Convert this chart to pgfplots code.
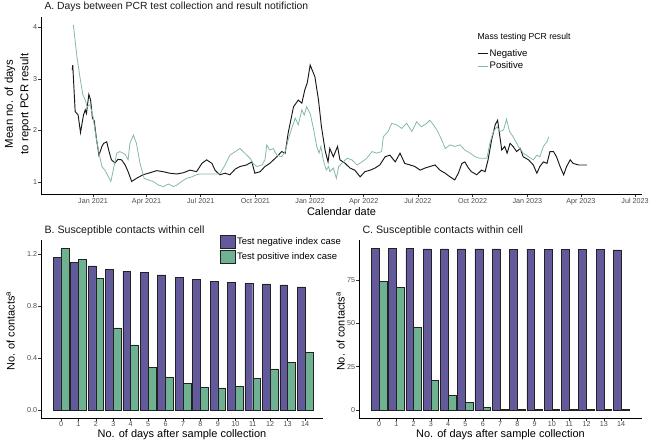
\documentclass[border=0pt]{standalone}
\usepackage{fontspec}
\setmainfont{Liberation Sans}
\usepackage{pgfplots}
\pgfplotsset{compat=1.18}
\definecolor{negpurple}{HTML}{635A9C}
\definecolor{posgreen}{HTML}{6FB292}
\definecolor{linegreen}{HTML}{86B9A2}
\definecolor{ticktxt}{HTML}{4D4D4D}
\definecolor{barline}{HTML}{222222}
\pgfplotsset{
  common/.style={
    scale only axis, anchor=south west,
    axis x line*=bottom, axis y line*=left,
    axis line style={-, line width=0.55pt, black},
    tick align=outside, major tick length=2.7bp,
    tick style={line width=0.45pt, black!80},
    ticklabel style={font=\fontsize{7.2}{8}\selectfont, text=ticktxt, inner sep=1bp},
    /pgf/number format/assume math mode=true,
  }
}
\begin{document}
\begin{tikzpicture}
\useasboundingbox (0,0) rectangle (650bp,443bp);
% ---------------- Panel A ----------------
\begin{axis}[common,
  at={(41bp,248.3bp)}, width=601bp, height=177.9bp,
  xmin=-87.4, xmax=922.7, ymin=0.753, ymax=4.207,
  xtick={0,90,181,273,365,455,546,638,730,820,911},
  xticklabels={Jan 2021,Apr 2021,Jul 2021,Oct 2021,Jan 2022,Apr 2022,Jul 2022,Oct 2022,Jan 2023,Apr 2023,Jul 2023},
  ytick={1,2,3,4}, yticklabels={1,2,3,4},
  legend style={at={(axis description cs:0.7255,0.828)}, anchor=north west, draw=none, fill=none,
    inner sep=0pt, row sep=1.2bp, font=\fontsize{9.6}{11}\selectfont, nodes={inner sep=1.5bp}},
  legend cell align=left,
  legend image code/.code={\draw[#1] (0bp,0bp) -- (10bp,0bp);},
]
\addplot[draw=black!90, line width=0.95pt] coordinates {
(-35,3.17) (-34,3.27) (-30,2.37) (-25,2.30) (-21,1.96) (-16,2.30) (-13,2.40) (-11,2.33)
(-7,2.70) (-4,2.59) (-1,2.24) (2,2.19) (6,1.82) (10,1.52) (15,1.69) (18,1.75) (23,1.78)
(27,1.59) (31,1.43) (37,1.37) (42,1.44) (48,1.43) (54,1.33) (59,1.20) (65,1.01) (73,1.07)
(84,1.14) (96,1.18) (107,1.22) (118,1.20) (129,1.17) (141,1.155) (152,1.18) (163,1.23)
(174,1.20) (183,1.36) (191,1.43) (200,1.36) (205,1.23) (213,1.14) (222,1.17) (230,1.14)
(239,1.25) (247,1.30) (258,1.33) (267,1.39) (272,1.17) (281,1.20) (289,1.30) (297,1.36)
(309,1.49) (317,1.59) (323,1.56) (328,1.95) (337,2.46) (345,2.59) (351,2.53) (356,2.79)
(360,2.92) (365,3.27) (373,3.04) (379,2.59) (384,2.07) (390,1.62) (395,1.39) (398,1.65)
(404,1.49) (411,1.69) (415,1.43) (424,1.36) (432,1.27) (440,1.23) (449,1.10) (457,1.20)
(466,1.23) (474,1.27) (482,1.33) (491,1.49) (499,1.52) (508,1.39) (516,1.56) (524,1.36)
(533,1.33) (541,1.30) (550,1.23) (558,1.27) (566,1.30) (575,1.33) (583,1.23) (592,1.17)
(600,1.10) (608,1.04) (614,1.17) (620,1.36) (625,1.39) (631,1.27) (636,1.20) (645,1.14)
(653,1.23) (659,1.20) (664,1.43) (670,1.82) (676,2.11) (680,2.20) (683,1.95) (687,1.62)
(692,1.69) (696,1.56) (701,1.75) (706,1.69) (712,1.59) (718,1.65) (723,1.49) (732,1.43)
(740,1.33) (746,1.17) (751,1.30) (757,1.39) (763,1.36) (768,1.59) (774,1.59) (779,1.49)
(785,1.30) (791,1.14) (796,1.30) (802,1.43) (807,1.36) (816,1.33) (827,1.33) (830,1.33)
};
\addlegendentry{Negative}
\addplot[draw=linegreen, line width=0.8pt] coordinates {
(-33,4.05) (-27,3.43) (-22,3.04) (-17,2.69) (-13,2.59) (-10,2.46) (-5,2.50) (0,2.27)
(5,1.88) (9,1.62) (15,1.30) (20,1.23) (26,1.10) (30,1.01) (34,1.23) (40,1.56) (45,1.59)
(54,1.54) (59,1.43) (62,1.75) (68,1.91) (73,1.75) (79,1.36) (86,1.07) (93,1.04) (101,1.01)
(110,0.94) (118,0.91) (127,0.96) (135,0.91) (141,0.94) (149,1.01) (157,1.07) (166,1.10)
(174,1.14) (180,1.155) (213,1.155) (222,1.33) (230,1.52) (239,1.59) (247,1.65) (255,1.56)
(264,1.46) (269,1.36) (275,1.30) (284,1.33) (289,1.43) (292,1.72) (297,1.62) (303,1.65)
(309,1.52) (317,1.49) (323,1.59) (328,1.82) (334,2.04) (340,2.24) (345,2.11) (351,2.40)
(355,2.30) (359,2.46) (365,2.33) (371,2.01) (376,1.69) (380,1.56) (383,1.69) (387,1.43)
(392,1.23) (396,1.30) (398,1.20) (404,1.27) (409,1.07) (413,1.30) (418,1.36) (427,1.46)
(435,1.43) (444,1.33) (452,1.39) (460,1.46) (469,1.59) (477,1.56) (485,1.59) (488,1.88)
(496,1.98) (502,2.14) (510,2.11) (519,2.04) (527,2.14) (536,1.98) (544,2.17) (552,2.07)
(561,2.14) (566,2.20) (572,2.11) (578,2.01) (586,1.82) (592,1.65) (600,1.72) (608,1.69)
(617,1.72) (625,1.62) (634,1.56) (642,1.49) (650,1.46) (662,1.46) (667,1.75) (673,1.98)
(679,2.07) (684,1.98) (690,2.01) (695,2.22) (700,1.98) (706,1.88) (715,1.69) (723,1.56)
(732,1.49) (740,1.43) (746,1.52) (751,1.49) (757,1.69) (763,1.78) (766,1.88)
};
\addlegendentry{Positive}
\end{axis}
\node[anchor=base west, font=\fontsize{10.4}{12}\selectfont, text=black!90] at (41bp,433.7bp) {A. Days between PCR test collection and result notifiction};
\node[anchor=base, font=\fontsize{11}{13}\selectfont] at (341.5bp,227bp) {Calendar date};
\node[anchor=base, rotate=90, font=\fontsize{11.4}{13}\selectfont] at (12.8bp,339bp) {Mean no. of days};
\node[anchor=base, rotate=90, font=\fontsize{11.4}{13}\selectfont] at (28.3bp,339bp) {to report PCR result};
\node[anchor=west, font=\fontsize{8.7}{10}\selectfont] at (474bp,406bp) {Mass testing PCR result};
% ---------------- Panel B ----------------
\begin{axis}[common,
  at={(41bp,25bp)}, width=282bp, height=177.5bp,
  xmin=-1.147, xmax=15.03, ymin=-0.062, ymax=1.303,
  xtick={0,...,14},
  ytick={0,0.4,0.8,1.2}, yticklabels={0.0,0.4,0.8,1.2},
  ybar, bar width=0.45,
  legend image code/.code={\draw[#1, draw=barline, line width=0.5pt] (0bp,-6.5bp) rectangle (15bp,6.5bp);},
  legend style={at={(axis description cs:0.6348,1.031)}, anchor=north west, draw=none, fill=none,
    inner sep=0pt, row sep=1bp, font=\fontsize{9.5}{11}\selectfont, nodes={inner sep=1.5bp}},
  legend cell align=left,
]
\addplot[ybar, bar shift=-0.225, fill=negpurple, draw=barline, line width=0.5pt] coordinates {
(0,1.172) (1,1.133) (2,1.108) (3,1.082) (4,1.067) (5,1.056) (6,1.038) (7,1.021) (8,1.003)
(9,0.990) (10,0.982) (11,0.974) (12,0.969) (13,0.962) (14,0.946)};
\addlegendentry{Test negative index case}
\addplot[ybar, bar shift=0.225, fill=posgreen, draw=barline, line width=0.5pt] coordinates {
(0,1.241) (1,1.159) (2,1.010) (3,0.631) (4,0.500) (5,0.328) (6,0.251) (7,0.203) (8,0.174)
(9,0.169) (10,0.182) (11,0.241) (12,0.315) (13,0.364) (14,0.441)};
\addlegendentry{Test positive index case}
\end{axis}
\node[anchor=base west, font=\fontsize{10.7}{12}\selectfont, text=black!90] at (41bp,209.5bp) {B. Susceptible contacts within cell};
\node[anchor=base, font=\fontsize{11}{13}\selectfont] at (182bp,5.5bp) {No. of days after sample collection};
\node[anchor=base, rotate=90, font=\fontsize{11}{13}\selectfont] at (14.5bp,112bp) {No. of contacts\textsuperscript{a}};
% ---------------- Panel C ----------------
\begin{axis}[common,
  at={(359bp,25bp)}, width=283bp, height=177.9bp,
  xmin=-1.157, xmax=15.21, ymin=-4.67, ymax=98.0,
  xtick={0,...,14},
  ytick={0,25,50,75}, yticklabels={0,25,50,75},
  ybar, bar width=0.45,
]
\addplot[ybar, bar shift=-0.225, fill=negpurple, draw=barline, line width=0.5pt] coordinates {
(0,93.4) (1,93.2) (2,93.1) (3,93.0) (4,92.9) (5,92.9) (6,92.9) (7,92.9) (8,92.8)
(9,92.8) (10,92.8) (11,92.8) (12,92.7) (13,92.7) (14,92.3)};
\addplot[ybar, bar shift=0.225, fill=posgreen, draw=barline, line width=0.5pt] coordinates {
(0,74.0) (1,70.6) (2,47.7) (3,16.9) (4,8.5) (5,4.2) (6,1.5) (7,0.3) (8,0.3)
(9,0.3) (10,0.3) (11,0.3) (12,0.3) (13,0.3) (14,0.3)};
\end{axis}
\node[anchor=base west, font=\fontsize{10.7}{12}\selectfont, text=black!90] at (359bp,209.5bp) {C. Susceptible contacts within cell};
\node[anchor=base, font=\fontsize{11}{13}\selectfont] at (500.5bp,5.5bp) {No. of days after sample collection};
\node[anchor=base, rotate=90, font=\fontsize{11}{13}\selectfont] at (344.5bp,111.5bp) {No. of contacts\textsuperscript{a}};
\end{tikzpicture}
\end{document}
